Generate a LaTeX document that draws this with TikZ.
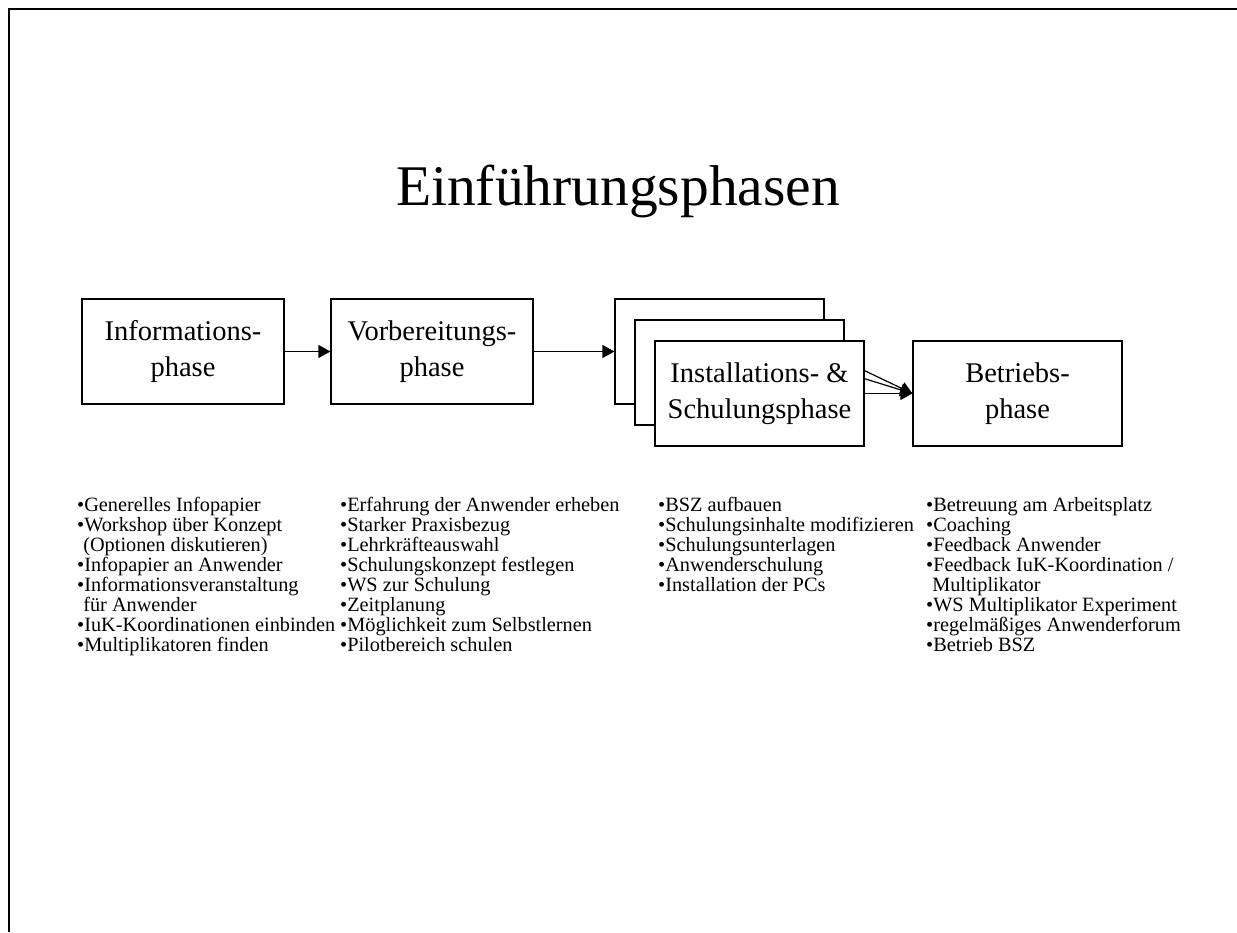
\documentclass[tikz,border=0pt]{standalone}
\usepackage{fontspec}
\setmainfont{Liberation Serif}
\usetikzlibrary{arrows.meta}
\begin{document}
\begin{tikzpicture}[x=1pt,y=-1pt,
  phasebox/.style={draw, line width=1.2pt, fill=white, inner sep=0pt,
    align=center, font=\fontsize{28.5}{36}\selectfont,
    execute at begin node=\rule{0pt}{30pt}},
  widebox/.style={phasebox, minimum width=209pt, minimum height=105pt},
  narrowbox/.style={phasebox, minimum width=202pt, minimum height=105pt},
  flow/.style={line width=1.2pt, -{Triangle[length=12pt,width=13pt]}},
  itemlist/.style={anchor=north west, inner sep=0pt, align=left,
    font=\fontsize{20.3}{20}\selectfont}]
\useasboundingbox (0,0) rectangle (1237,932);

% slide frame
\draw[line width=2pt] (9,932) -- (9,9) -- (1237,9);

% title
\node[anchor=base, inner sep=0pt, font=\fontsize{57.5}{60}\selectfont] (title) at (618,205) {Einführungsphasen};

% phases
\node[widebox] (betr) at (1017.5,393.5) {Betriebs-\\phase};
\node[narrowbox] (info) at (183,351.5) {Informations-\\phase};
\node[narrowbox] (vorb) at (432,351.5) {Vorbereitungs-\\phase};
\draw[flow] (info) -- (vorb);

% stacked installation boxes
\node[widebox] (inst1) at (719.5,351.5) {};
\draw[flow] (vorb) -- (inst1);
\draw[flow] (inst1.east) -- (betr.west);
\node[widebox] (inst2) at (739.5,372.5) {};
\draw[flow] (inst2.east) -- (betr.west);
\node[widebox] (inst3) at (759.5,393.5) {Installations- \&\\Schulungsphase};
\draw[flow] (inst3.east) -- (betr.west);

% task lists
\node[itemlist] (list1) at (77,497) {•Generelles Infopapier\\
•Workshop über Konzept\\
\hspace{0.3em}(Optionen diskutieren)\\
•Infopapier an Anwender\\
•Informationsveranstaltung\\
\hspace{0.3em}für Anwender\\
•IuK-Koordinationen einbinden\\
•Multiplikatoren finden};

\node[itemlist] (list2) at (340,497) {•Erfahrung der Anwender erheben\\
•Starker Praxisbezug\\
•Lehrkräfteauswahl\\
•Schulungskonzept festlegen\\
•WS zur Schulung\\
•Zeitplanung\\
•Möglichkeit zum Selbstlernen\\
•Pilotbereich schulen};

\node[itemlist] (list3) at (658,497) {•BSZ aufbauen\\
•Schulungsinhalte modifizieren\\
•Schulungsunterlagen\\
•Anwenderschulung\\
•Installation der PCs};

\node[itemlist] (list4) at (926,497) {•Betreuung am Arbeitsplatz\\
•Coaching\\
•Feedback Anwender\\
•Feedback IuK-Koordination /\\
\hspace{0.3em}Multiplikator\\
•WS Multiplikator Experiment\\
•regelmäßiges Anwenderforum\\
•Betrieb BSZ};
\end{tikzpicture}
\end{document}
